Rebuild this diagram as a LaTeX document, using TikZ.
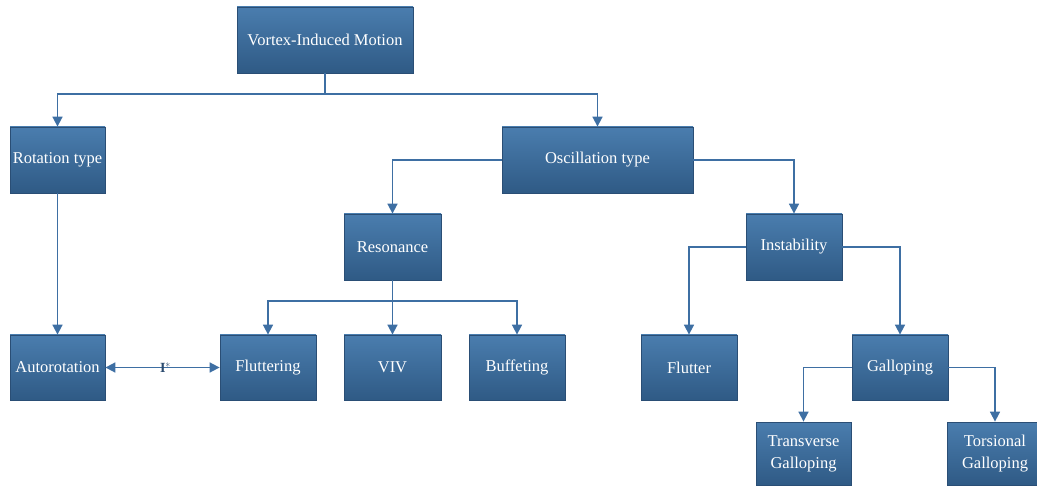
\documentclass[tikz,border=0pt]{standalone}
\usepackage{fontspec}
\setmainfont{Liberation Serif}
\usetikzlibrary{arrows.meta,shadings}
\definecolor{boxtop}{HTML}{4A7DAE}
\definecolor{boxbot}{HTML}{2F5A85}
\definecolor{boxline}{HTML}{2A4E75}
\definecolor{conn}{HTML}{3E6FA3}
\definecolor{lbl}{HTML}{2A4A6E}
\tikzset{
  blk/.style={rectangle, draw=boxline, line width=0.8pt, top color=boxtop, bottom color=boxbot,
    text=white, font=\fontsize{16.5}{22}\selectfont, align=center, inner sep=2pt},
  conline/.style={draw=conn, line width=1.7pt},
  arr/.style={conline, -{Triangle[length=10pt,width=10pt]}},
}
\begin{document}
\begin{tikzpicture}[x=1pt,y=-1pt]
\useasboundingbox (0,0) rectangle (1037,489);
\clip (0,0) rectangle (1037,489);
\node[blk, minimum width=176pt, minimum height=66pt] (vim) at (325,40) {Vortex-Induced Motion};
\node[blk, minimum width=95pt, minimum height=66pt] (rot) at (57.5,160) {Rotation type};
\node[blk, minimum width=191pt, minimum height=66pt] (osc) at (597.5,160) {Oscillation type};
\node[blk, minimum width=97pt, minimum height=66pt] (res) at (392.5,247) {Resonance};
\node[blk, minimum width=96pt, minimum height=66pt] (ins) at (794,247) {Instability};
\node[blk, minimum width=95pt, minimum height=65pt] (aut) at (57.5,367.5) {Autorotation};
\node[blk, minimum width=96pt, minimum height=65pt] (flu) at (268,367.5) {Fluttering};
\node[blk, minimum width=97pt, minimum height=65pt] (viv) at (392.5,367.5) {VIV};
\node[blk, minimum width=96pt, minimum height=65pt] (buf) at (517,367.5) {Buffeting};
\node[blk, minimum width=96pt, minimum height=65pt] (flt) at (689,367.5) {Flutter};
\node[blk, minimum width=96pt, minimum height=65pt] (gal) at (900,367.5) {Galloping};
\node[blk, minimum width=95pt, minimum height=63pt] (tra) at (803.5,453.5) {Transverse\\Galloping};
\node[blk, minimum width=96pt, minimum height=63pt] (tor) at (995,453.5) {Torsional\\Galloping};

\coordinate (j1) at (325,94);
\coordinate (j2) at (392.5,301);
\draw[conline] (vim.south) -- (j1);
\draw[arr] (j1) -| (rot.north);
\draw[arr] (j1) -| (osc.north);
\draw[arr] (osc.west) -| (res.north);
\draw[arr] (osc.east) -| (ins.north);
\draw[arr] (rot.south) -- (aut.north);
\draw[conline] (res.south) -- (j2);
\draw[arr] (j2) -| (flu.north);
\draw[arr] (j2) -- (viv.north);
\draw[arr] (j2) -| (buf.north);
\draw[arr] (ins.west) -| (flt.north);
\draw[arr] (ins.east) -| (gal.north);
\draw[arr] (gal.west) -| (tra.north);
\draw[arr] (gal.east) -| (tor.north);
\draw[conline, {Triangle[length=10pt,width=10pt]}-{Triangle[length=10pt,width=10pt]}] (aut.east) -- node[text=lbl, font=\fontsize{14}{14}\selectfont\bfseries, inner sep=0pt, xshift=3pt] (lab) {I$^{*}$} (flu.west);
\end{tikzpicture}
\end{document}
